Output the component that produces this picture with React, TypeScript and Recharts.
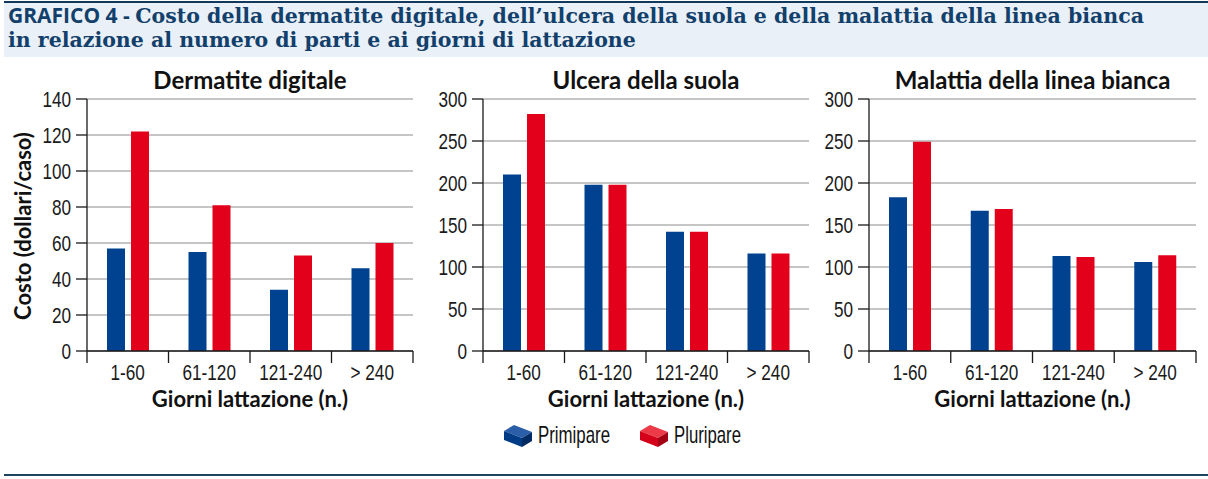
import React from 'react';
import { BarChart, Bar, XAxis, YAxis, CartesianGrid } from 'recharts';

const categories = ['1-60', '61-120', '121-240', '> 240'];

const dermatitePrimipare = [57, 55, 34, 46];
const dermatitePluripare = [122, 81, 53, 60];
const ulceraPrimipare = [210, 198, 142, 116];
const ulceraPluripare = [282, 198, 142, 116];
const lineaPrimipare = [183, 167, 113, 106];
const lineaPluripare = [249, 169, 112, 114];

const dermatiteTicks = [0, 20, 40, 60, 80, 100, 120, 140];
const costoTicks = [0, 50, 100, 150, 200, 250, 300];

const BLUE = '#00428f';
const RED = '#e2001b';
const INK = '#1a1a1a';
const NARROW = "'Liberation Sans', Arial, sans-serif";
const HUMAN = "Lato, 'Open Sans', sans-serif";
const SQUEEZE = 0.78;

const BOX_TOP = 80;
const BOX_H = 320;
const TICK_MARGIN = 13;

const XTick = (props: any) => {
  const { x, y, payload, index, visibleTicksCount, width } = props;
  const half = payload && payload.offset ? payload.offset : width / visibleTicksCount / 2;
  const axisY = y - TICK_MARGIN;
  return (
    <g>
      <line x1={x - half} x2={x - half} y1={axisY} y2={axisY + 12} stroke={INK} strokeWidth={1.3} />
      {index === visibleTicksCount - 1 && (
        <line x1={x + half} x2={x + half} y1={axisY} y2={axisY + 12} stroke={INK} strokeWidth={1.3} />
      )}
      <text transform={`translate(${x},${axisY + 29}) scale(${SQUEEZE},1)`} textAnchor="middle" fill={INK} fontFamily={NARROW} fontSize={22}>
        {payload.value}
      </text>
    </g>
  );
};

const YTick = (props: any) => {
  const { x, y, payload } = props;
  return (
    <text transform={`translate(${x},${y}) scale(${SQUEEZE},1)`} dy="0.36em" textAnchor="end" fill={INK} fontFamily={NARROW} fontSize={22}>
      {payload.value}
    </text>
  );
};

interface PanelProps {
  title: string;
  prim: number[];
  plur: number[];
  ticks: number[];
  left: number;
  width: number;
  plotLeft: number;
  plotRight: number;
}

function Panel({ title, prim, plur, ticks, left, width, plotLeft, plotRight }: PanelProps) {
  const data = categories.map((c, i) => ({ cat: c, prim: prim[i], plur: plur[i] }));
  const yw = 50;
  const center = (plotLeft + plotRight) / 2;
  return (
    <>
      <div style={{ position: 'absolute', left: center - 200, width: 400, top: 66, textAlign: 'center', fontFamily: HUMAN, fontWeight: 700, fontSize: 24, lineHeight: '28px', color: '#111' }}>
        {title}
      </div>
      <div style={{ position: 'absolute', left: left, top: BOX_TOP }}>
        <BarChart
          width={width}
          height={BOX_H}
          data={data}
          barSize={18}
          barGap={6}
          margin={{ top: 99 - BOX_TOP, right: left + width - plotRight, left: plotLeft - left - yw, bottom: 19 }}
        >
          <CartesianGrid vertical={false} stroke="#8c8c8c" strokeWidth={1} />
          <XAxis
            dataKey="cat"
            height={30}
            tickLine={false}
            tickSize={0}
            tickMargin={TICK_MARGIN}
            axisLine={{ stroke: INK, strokeWidth: 1.3 }}
            tick={<XTick />}
            interval={0}
          />
          <YAxis
            width={yw}
            domain={[0, ticks[ticks.length - 1]]}
            ticks={ticks}
            interval={0}
            tickSize={11}
            tickMargin={5}
            axisLine={{ stroke: INK, strokeWidth: 1.3 }}
            tickLine={{ stroke: INK, strokeWidth: 1.3 }}
            tick={<YTick />}
          />
          <Bar dataKey="prim" fill={BLUE} isAnimationActive={false} />
          <Bar dataKey="plur" fill={RED} isAnimationActive={false} />
        </BarChart>
      </div>
      <div style={{ position: 'absolute', left: center - 150, width: 300, top: 386, textAlign: 'center', fontFamily: HUMAN, fontWeight: 700, fontSize: 22, lineHeight: '26px', color: '#111' }}>
        Giorni lattazione (n.)
      </div>
    </>
  );
}

function BoxIcon({ x, front, top, side }: { x: number; front: string; top: string; side: string }) {
  return (
    <g transform={`translate(${x},0)`}>
      <polygon points="1,9 11,3 29,10 19,16" fill={top} />
      <polygon points="1,9 19,16 19,25 1,18" fill={front} />
      <polygon points="19,16 29,10 29,19 19,25" fill={side} />
    </g>
  );
}

export default function App() {
  return (
    <div style={{ position: 'absolute', left: 0, top: 0, width: 1208, height: 479, background: '#fff', overflow: 'hidden' }}>
      <div style={{ position: 'absolute', left: 4, top: 1, width: 1204, height: 54, background: '#e9f0f8', borderTop: '2px solid #12395c' }} />
      <div style={{ position: 'absolute', left: 8, top: 3, width: 1200, fontFamily: "'DejaVu Serif', serif", fontWeight: 700, fontSize: 20.5, lineHeight: '24px', color: '#12406b', whiteSpace: 'nowrap' }}>
        <span style={{ fontFamily: "'Open Sans', sans-serif", fontWeight: 700, fontSize: 21 }}>GRAFICO 4 - </span>
        Costo della dermatite digitale, dell’ulcera della suola e della malattia della linea bianca
        <br />
        in relazione al numero di parti e ai giorni di lattazione
      </div>

      <div style={{ position: 'absolute', left: 23 - 120, top: 226 - 13, width: 240, height: 26, lineHeight: '26px', textAlign: 'center', transform: 'rotate(-90deg)', fontFamily: HUMAN, fontWeight: 700, fontSize: 22, color: '#111' }}>
        Costo (dollari/caso)
      </div>

      <Panel title="Dermatite digitale" prim={dermatitePrimipare} plur={dermatitePluripare} ticks={dermatiteTicks} left={0} width={425} plotLeft={87} plotRight={413} />
      <Panel title="Ulcera della suola" prim={ulceraPrimipare} plur={ulceraPluripare} ticks={costoTicks} left={400} width={420} plotLeft={483} plotRight={809} />
      <Panel title="Malattia della linea bianca" prim={lineaPrimipare} plur={lineaPluripare} ticks={costoTicks} left={790} width={418} plotLeft={869} plotRight={1196} />

      <svg style={{ position: 'absolute', left: 503, top: 422 }} width={300} height={36}>
        <BoxIcon x={0} front="#003b85" top="#2a5ea8" side="#002a63" />
        <text x={35} y={21} textLength={72} lengthAdjust="spacingAndGlyphs" fontFamily={NARROW} fontSize={24} fill="#111">Primipare</text>
        <BoxIcon x={136} front="#d5001a" top="#ec3a48" side="#a30014" />
        <text x={171} y={21} textLength={67} lengthAdjust="spacingAndGlyphs" fontFamily={NARROW} fontSize={24} fill="#111">Pluripare</text>
      </svg>

      <div style={{ position: 'absolute', left: 4, top: 474, width: 1204, height: 2, background: '#1c4460' }} />
    </div>
  );
}
